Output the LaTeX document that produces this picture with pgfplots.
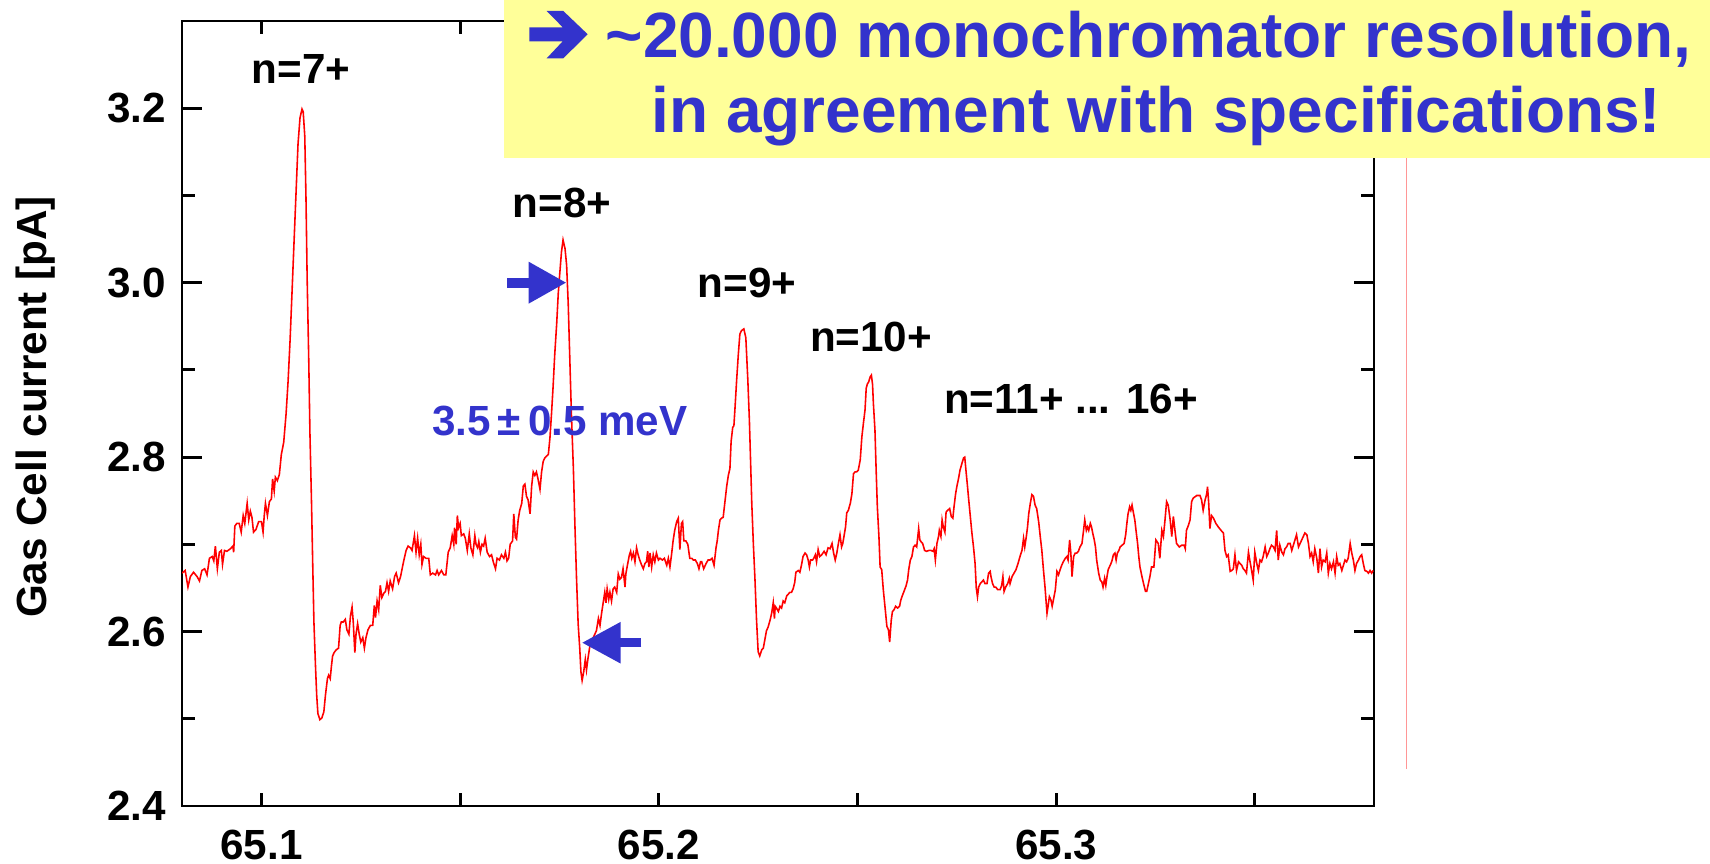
\documentclass[border=0pt]{standalone}
\usepackage{pgfplots}
\pgfplotsset{compat=1.18}
\usepackage{pgfplotstable}
\usetikzlibrary{arrows.meta}
\usepackage{fontspec}
\setmainfont{Liberation Sans}
\definecolor{tracered}{RGB}{255,0,0}
\definecolor{notebox}{RGB}{255,255,153}
\definecolor{noteblue}{RGB}{51,51,204}
\definecolor{straypink}{RGB}{255,150,150}

% photon energy [eV] vs. gas cell ion current [pA]
\pgfplotstableread{
x y
65.0800 2.667
65.0808 2.670
65.0815 2.651
65.0821 2.663
65.0829 2.668
65.0838 2.663
65.0844 2.658
65.0850 2.670
65.0857 2.672
65.0863 2.665
65.0869 2.684
65.0876 2.686
65.0880 2.681
65.0884 2.698
65.0889 2.672
65.0894 2.691
65.0899 2.693
65.0902 2.677
65.0907 2.693
65.0913 2.692
65.0922 2.695
65.0928 2.698
65.0930 2.691
65.0933 2.721
65.0938 2.724
65.0944 2.724
65.0949 2.714
65.0954 2.733
65.0958 2.724
65.0964 2.747
65.0968 2.728
65.0972 2.738
65.0976 2.731
65.0980 2.714
65.0986 2.717
65.0993 2.726
65.1000 2.726
65.1004 2.714
65.1007 2.733
65.1010 2.747
65.1015 2.733
65.1020 2.749
65.1025 2.752
65.1028 2.775
65.1032 2.761
65.1035 2.777
65.1040 2.773
65.1045 2.780
65.1050 2.803
65.1056 2.817
65.1062 2.850
65.1067 2.887
65.1072 2.934
65.1077 2.990
65.1082 3.047
65.1087 3.103
65.1092 3.159
65.1097 3.189
65.1102 3.199
65.1105 3.196
65.1109 3.168
65.1112 3.098
65.1115 3.004
65.1119 2.911
65.1122 2.827
65.1126 2.747
65.1129 2.677
65.1132 2.611
65.1136 2.560
65.1139 2.527
65.1142 2.506
65.1147 2.499
65.1152 2.501
65.1157 2.508
65.1161 2.527
65.1166 2.546
65.1169 2.550
65.1173 2.546
65.1176 2.560
65.1179 2.572
65.1183 2.576
65.1188 2.579
65.1194 2.581
65.1198 2.607
65.1201 2.611
65.1206 2.611
65.1211 2.614
65.1215 2.602
65.1220 2.597
65.1224 2.618
65.1228 2.628
65.1231 2.611
65.1235 2.576
65.1238 2.597
65.1242 2.609
65.1246 2.597
65.1250 2.588
65.1255 2.593
65.1259 2.581
65.1263 2.593
65.1268 2.602
65.1274 2.607
65.1280 2.607
65.1284 2.630
65.1287 2.616
65.1291 2.635
65.1295 2.625
65.1299 2.653
65.1303 2.639
65.1308 2.644
65.1312 2.646
65.1316 2.656
65.1320 2.646
65.1324 2.658
65.1330 2.649
65.1335 2.663
65.1339 2.667
65.1345 2.656
65.1350 2.663
65.1354 2.672
65.1358 2.681
65.1364 2.693
65.1369 2.698
65.1375 2.696
65.1379 2.693
65.1385 2.710
65.1389 2.691
65.1393 2.707
65.1397 2.688
65.1401 2.700
65.1404 2.677
65.1408 2.686
65.1414 2.684
65.1421 2.684
65.1425 2.665
65.1431 2.667
65.1438 2.665
65.1442 2.670
65.1446 2.665
65.1453 2.670
65.1459 2.665
65.1464 2.665
65.1470 2.691
65.1475 2.696
65.1480 2.710
65.1484 2.700
65.1486 2.719
65.1490 2.700
65.1493 2.733
65.1496 2.719
65.1500 2.724
65.1503 2.710
65.1509 2.712
65.1513 2.707
65.1518 2.693
65.1523 2.712
65.1527 2.696
65.1532 2.688
65.1537 2.710
65.1540 2.700
65.1544 2.696
65.1547 2.703
65.1551 2.691
65.1555 2.700
65.1559 2.698
65.1563 2.707
65.1568 2.691
65.1574 2.686
65.1579 2.688
65.1584 2.679
65.1589 2.672
65.1593 2.684
65.1599 2.682
65.1604 2.688
65.1610 2.684
65.1614 2.691
65.1618 2.681
65.1622 2.684
65.1626 2.700
65.1632 2.704
65.1635 2.735
65.1639 2.708
65.1642 2.706
65.1646 2.728
65.1650 2.739
65.1655 2.747
65.1659 2.767
65.1663 2.769
65.1667 2.755
65.1671 2.751
65.1676 2.735
65.1680 2.767
65.1684 2.783
65.1688 2.779
65.1692 2.783
65.1696 2.775
65.1701 2.763
65.1705 2.783
65.1709 2.795
65.1713 2.799
65.1717 2.801
65.1722 2.803
65.1726 2.822
65.1730 2.850
65.1734 2.881
65.1738 2.917
65.1743 2.953
65.1747 2.988
65.1751 3.012
65.1755 3.035
65.1759 3.049
65.1764 3.039
65.1768 3.020
65.1772 2.976
65.1776 2.913
65.1780 2.850
65.1785 2.787
65.1789 2.720
65.1793 2.660
65.1797 2.609
65.1801 2.581
65.1804 2.554
65.1807 2.544
65.1811 2.554
65.1815 2.568
65.1818 2.556
65.1822 2.570
65.1827 2.585
65.1831 2.589
65.1835 2.593
65.1839 2.597
65.1843 2.601
65.1848 2.615
65.1852 2.607
65.1856 2.621
65.1860 2.633
65.1864 2.645
65.1867 2.633
65.1870 2.649
65.1874 2.637
65.1877 2.645
65.1881 2.635
65.1885 2.649
65.1889 2.651
65.1894 2.645
65.1898 2.666
65.1902 2.660
65.1906 2.662
65.1910 2.672
65.1915 2.651
65.1917 2.666
65.1921 2.676
65.1926 2.688
65.1929 2.692
65.1932 2.684
65.1936 2.690
65.1940 2.680
65.1944 2.696
65.1948 2.688
65.1952 2.682
65.1957 2.676
65.1961 2.672
65.1965 2.678
65.1969 2.680
65.1972 2.692
65.1975 2.674
65.1978 2.690
65.1982 2.674
65.1986 2.688
65.1990 2.680
65.1994 2.690
65.1999 2.682
65.2003 2.684
65.2009 2.682
65.2014 2.684
65.2020 2.676
65.2024 2.684
65.2028 2.674
65.2032 2.688
65.2036 2.704
65.2040 2.716
65.2045 2.726
65.2049 2.730
65.2053 2.694
65.2057 2.724
65.2060 2.726
65.2063 2.704
65.2068 2.704
65.2073 2.700
65.2078 2.684
65.2083 2.684
65.2087 2.682
65.2092 2.682
65.2097 2.678
65.2101 2.672
65.2105 2.680
65.2108 2.680
65.2113 2.672
65.2119 2.678
65.2124 2.682
65.2129 2.682
65.2134 2.684
65.2139 2.676
65.2144 2.696
65.2147 2.704
65.2150 2.716
65.2154 2.728
65.2158 2.730
65.2162 2.731
65.2166 2.747
65.2171 2.767
65.2175 2.779
65.2179 2.787
65.2182 2.818
65.2186 2.834
65.2189 2.836
65.2192 2.858
65.2196 2.889
65.2200 2.917
65.2204 2.941
65.2208 2.945
65.2214 2.947
65.2219 2.937
65.2224 2.889
65.2228 2.842
65.2231 2.795
65.2234 2.747
65.2238 2.700
65.2242 2.660
65.2246 2.613
65.2250 2.577
65.2254 2.572
65.2259 2.579
65.2263 2.581
65.2267 2.591
65.2271 2.601
65.2275 2.605
65.2280 2.613
65.2284 2.621
65.2288 2.633
65.2291 2.615
65.2293 2.629
65.2296 2.627
65.2301 2.623
65.2305 2.629
65.2309 2.627
65.2313 2.635
65.2317 2.633
65.2322 2.641
65.2326 2.643
65.2330 2.645
65.2334 2.645
65.2338 2.649
65.2342 2.656
65.2345 2.668
65.2351 2.670
65.2355 2.668
65.2359 2.676
65.2363 2.686
65.2368 2.690
65.2372 2.688
65.2376 2.682
65.2379 2.674
65.2382 2.682
65.2387 2.682
65.2390 2.684
65.2394 2.688
65.2397 2.680
65.2401 2.694
65.2405 2.686
65.2410 2.688
65.2416 2.692
65.2421 2.688
65.2426 2.696
65.2431 2.695
65.2436 2.701
65.2440 2.690
65.2444 2.682
65.2448 2.690
65.2452 2.701
65.2456 2.711
65.2460 2.697
65.2463 2.701
65.2466 2.709
65.2470 2.720
65.2473 2.736
65.2477 2.739
65.2482 2.747
65.2486 2.758
65.2490 2.781
65.2494 2.783
65.2498 2.783
65.2502 2.785
65.2507 2.797
65.2511 2.823
65.2515 2.839
65.2519 2.854
65.2522 2.879
65.2525 2.884
65.2528 2.886
65.2532 2.892
65.2535 2.894
65.2538 2.883
65.2540 2.862
65.2544 2.831
65.2547 2.785
65.2550 2.743
65.2554 2.709
65.2557 2.674
65.2561 2.671
65.2565 2.648
65.2570 2.625
65.2574 2.606
65.2578 2.602
65.2581 2.588
65.2585 2.613
65.2588 2.623
65.2592 2.625
65.2596 2.629
65.2601 2.627
65.2606 2.629
65.2609 2.636
65.2612 2.640
65.2617 2.646
65.2622 2.652
65.2626 2.659
65.2629 2.671
65.2633 2.682
65.2637 2.686
65.2641 2.697
65.2645 2.699
65.2649 2.697
65.2654 2.718
65.2657 2.705
65.2660 2.703
65.2664 2.701
65.2669 2.693
65.2674 2.692
65.2680 2.693
65.2685 2.693
65.2690 2.692
65.2693 2.695
65.2696 2.682
65.2700 2.701
65.2704 2.709
65.2706 2.716
65.2710 2.709
65.2713 2.728
65.2716 2.720
65.2720 2.714
65.2723 2.737
65.2727 2.739
65.2732 2.741
65.2736 2.732
65.2740 2.730
65.2743 2.743
65.2747 2.758
65.2750 2.766
65.2755 2.777
65.2758 2.785
65.2763 2.793
65.2767 2.799
65.2770 2.800
65.2773 2.785
65.2777 2.766
65.2780 2.751
65.2784 2.732
65.2788 2.713
65.2792 2.697
65.2796 2.678
65.2799 2.650
65.2802 2.640
65.2805 2.651
65.2809 2.655
65.2813 2.657
65.2817 2.659
65.2821 2.655
65.2826 2.655
65.2830 2.667
65.2834 2.669
65.2836 2.663
65.2840 2.655
65.2844 2.651
65.2848 2.651
65.2853 2.648
65.2859 2.648
65.2863 2.653
65.2866 2.663
65.2869 2.646
65.2873 2.651
65.2878 2.655
65.2882 2.661
65.2884 2.655
65.2889 2.663
65.2894 2.667
65.2899 2.671
65.2904 2.678
65.2909 2.686
65.2914 2.693
65.2918 2.707
65.2921 2.697
65.2925 2.709
65.2928 2.720
65.2931 2.735
65.2935 2.747
65.2939 2.757
65.2943 2.755
65.2947 2.745
65.2951 2.741
65.2956 2.726
65.2960 2.709
65.2964 2.693
65.2968 2.671
65.2972 2.651
65.2977 2.621
65.2980 2.630
65.2983 2.640
65.2987 2.636
65.2990 2.629
65.2993 2.636
65.2998 2.648
65.3002 2.669
65.3006 2.665
65.3010 2.671
65.3014 2.676
65.3018 2.680
65.3023 2.684
65.3027 2.686
65.3030 2.682
65.3034 2.705
65.3037 2.690
65.3040 2.663
65.3044 2.686
65.3048 2.690
65.3052 2.690
65.3056 2.692
65.3060 2.697
65.3065 2.701
65.3069 2.716
65.3072 2.728
65.3076 2.716
65.3079 2.720
65.3082 2.716
65.3086 2.724
65.3089 2.720
65.3092 2.713
65.3096 2.705
65.3099 2.697
65.3102 2.682
65.3107 2.667
65.3111 2.659
65.3115 2.657
65.3118 2.651
65.3122 2.661
65.3125 2.653
65.3128 2.663
65.3131 2.671
65.3134 2.674
65.3138 2.678
65.3141 2.682
65.3144 2.688
65.3148 2.690
65.3151 2.682
65.3154 2.690
65.3158 2.693
65.3161 2.697
65.3166 2.699
65.3171 2.701
65.3175 2.711
65.3178 2.724
65.3181 2.735
65.3185 2.743
65.3188 2.739
65.3191 2.745
65.3195 2.735
65.3198 2.728
65.3201 2.716
65.3205 2.701
65.3208 2.686
65.3211 2.674
65.3216 2.663
65.3220 2.655
65.3225 2.646
65.3228 2.646
65.3236 2.663
65.3240 2.674
65.3246 2.674
65.3251 2.705
65.3257 2.701
65.3261 2.684
65.3266 2.716
65.3270 2.709
65.3274 2.728
65.3278 2.749
65.3282 2.745
65.3287 2.728
65.3291 2.709
65.3295 2.732
65.3299 2.716
65.3303 2.701
65.3310 2.697
65.3316 2.699
65.3322 2.699
65.3325 2.695
65.3328 2.716
65.3333 2.722
65.3337 2.728
65.3341 2.749
65.3345 2.753
65.3354 2.756
65.3362 2.756
65.3366 2.751
65.3370 2.739
65.3375 2.751
65.3379 2.758
65.3381 2.766
65.3384 2.747
65.3387 2.718
65.3391 2.733
65.3396 2.730
65.3402 2.724
65.3408 2.720
65.3415 2.716
65.3421 2.713
65.3425 2.693
65.3429 2.686
65.3433 2.688
65.3438 2.669
65.3442 2.670
65.3446 2.672
65.3450 2.688
65.3454 2.670
65.3459 2.680
65.3463 2.678
65.3467 2.676
65.3471 2.672
65.3475 2.670
65.3479 2.667
65.3484 2.691
65.3488 2.680
65.3492 2.670
65.3496 2.659
65.3500 2.691
65.3505 2.678
65.3509 2.670
65.3513 2.682
65.3517 2.680
65.3521 2.686
65.3526 2.697
65.3530 2.686
65.3534 2.690
65.3538 2.695
65.3542 2.699
65.3547 2.697
65.3551 2.693
65.3555 2.716
65.3559 2.682
65.3563 2.699
65.3568 2.691
65.3572 2.688
65.3576 2.695
65.3580 2.697
65.3584 2.701
65.3589 2.701
65.3593 2.693
65.3597 2.699
65.3601 2.705
65.3605 2.711
65.3610 2.697
65.3614 2.701
65.3618 2.705
65.3622 2.709
65.3626 2.713
65.3631 2.711
65.3635 2.701
65.3639 2.686
65.3643 2.690
65.3647 2.680
65.3651 2.695
65.3656 2.684
65.3660 2.667
65.3664 2.695
65.3668 2.674
65.3672 2.682
65.3677 2.680
65.3681 2.690
65.3685 2.667
65.3689 2.678
65.3693 2.672
65.3698 2.680
65.3702 2.667
65.3706 2.686
65.3710 2.676
65.3714 2.678
65.3719 2.670
65.3723 2.676
65.3727 2.682
65.3731 2.680
65.3735 2.684
65.3740 2.701
65.3744 2.690
65.3748 2.682
65.3752 2.670
65.3756 2.678
65.3761 2.682
65.3765 2.686
65.3769 2.688
65.3773 2.678
65.3777 2.670
65.3782 2.669
65.3786 2.667
65.3790 2.670
65.3794 2.667
65.3798 2.670
}\gascell

\begin{document}
\begin{tikzpicture}[x=1cm,y=1cm]
\path[use as bounding box] (-1.82,-0.57) rectangle (15.28,8.06);
\begin{axis}[
  at={(0,0)}, anchor=south west,
  scale only axis, width=11.92cm, height=7.85cm,
  xmin=65.08, xmax=65.38, ymin=2.4, ymax=3.3,
  xtick={65.1,65.2,65.3}, xticklabels={65.1,65.2,65.3},
  minor xtick={65.15,65.25,65.35},
  ytick={2.4,2.6,2.8,3.0,3.2}, yticklabels={2.4,2.6,2.8,3.0,3.2},
  minor ytick={2.5,2.7,2.9,3.1},
  tick align=inside,
  major tick length=0.2cm, minor tick length=0.13cm,
  xtick style={/pgfplots/major tick length=0.13cm},
  axis line style={line width=0.8pt},
  every tick/.style={black, line width=0.8pt},
  tick label style={font=\fontsize{12}{14}\selectfont\bfseries},
  yticklabel style={inner sep=0pt, xshift=-0.155cm},
  xticklabel style={inner sep=0pt, yshift=-0.23cm},
]
\addplot[tracered, line width=0.45pt] table[x=x, y=y] {\gascell};

\begin{scope}[every node/.style={inner sep=0pt, anchor=base, font=\fontsize{12}{14}\selectfont\bfseries}]
\node at (axis cs:65.1100,3.2287) {n=7+};
\node at (axis cs:65.1756,3.075) {n=8+};
\node at (axis cs:65.2222,2.9834) {n=9+};
\node at (axis cs:65.2534,2.9215) {n=10+};
\node at (axis cs:65.3037,2.8504) {n=11+ ... 16+};
\node[text=noteblue] at (axis cs:65.1751,2.8252) {3.5\,±\,0.5 meV};
\end{scope}

% FWHM markers on the n=8+ line
\draw[noteblue, line width=0.1cm, -{Triangle[length=0.38cm,width=0.39cm]}]
  (axis cs:65.1618,3.0) -- (axis cs:65.1768,3.0);
\draw[noteblue, line width=0.09cm, -{Triangle[length=0.39cm,width=0.39cm]}]
  (axis cs:65.1956,2.5872) -- (axis cs:65.1806,2.5872);
\end{axis}

\node[rotate=90, anchor=base, inner sep=0pt, font=\fontsize{12}{14}\selectfont\bfseries]
  at (-1.35,3.99) {Gas Cell current [pA]};

\draw[straypink, line width=0.3pt] (12.24,0.37) -- (12.24,7.0);

% conclusion box
\fill[notebox] (3.22,6.48) rectangle (15.28,8.06);
\fill[noteblue] (3.473,7.787) -- (3.807,7.787) -- (3.647,7.95) -- (3.813,7.95)
  -- (4.057,7.717) -- (3.813,7.477) -- (3.647,7.477) -- (3.807,7.647)
  -- (3.473,7.647) -- cycle;
\begin{scope}[every node/.style={inner sep=0pt, anchor=base west, text=noteblue,
    font=\fontsize{18.2}{22}\selectfont\bfseries}]
\node at (4.23,7.48) {\textasciitilde 20.000 monochromator resolution,};
\node at (4.69,6.73) {in agreement with specifications!};
\end{scope}
\end{tikzpicture}
\end{document}
